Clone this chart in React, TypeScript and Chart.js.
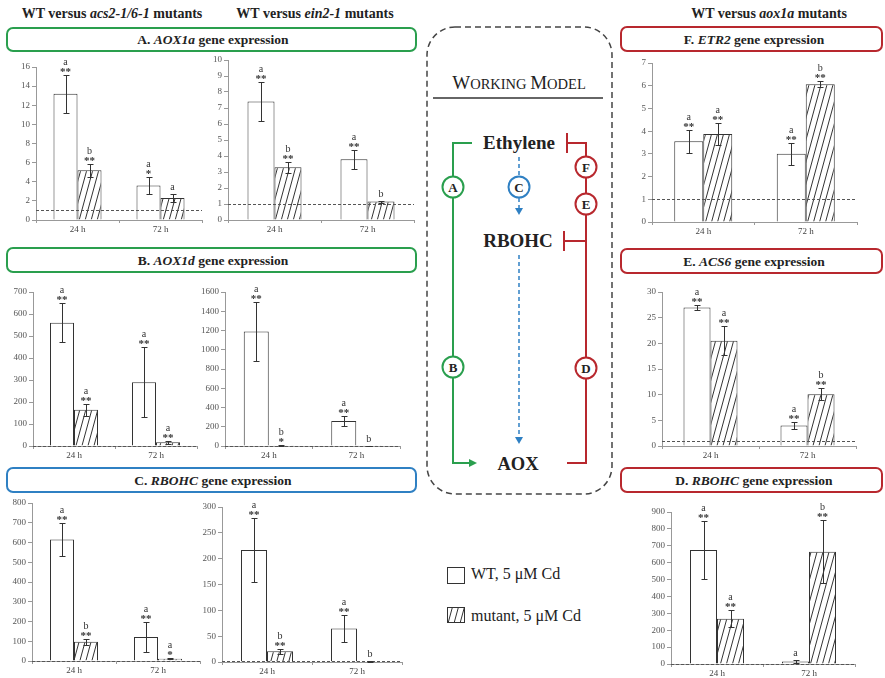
import React, { useEffect, useRef } from "react";
import { Chart, registerables } from "chart.js";

Chart.register(...registerables);

const FONT = "'Liberation Serif', 'Times New Roman', Times, serif";
Chart.defaults.font.family = FONT;

const timePoints = ["24 h", "72 h"];

// A. AOX1a — WT versus acs2-1/6-1
const aox1aAcsWT = [13.2, 3.6];
const aox1aAcsWTErr = [2.0, 0.9];
const aox1aAcsMut = [5.2, 2.3];
const aox1aAcsMutErr = [0.7, 0.4];
const aox1aAcsWTMarks = ["a **", "a *"];
const aox1aAcsMutMarks = ["b **", "a"];

// A. AOX1a — WT versus ein2-1
const aox1aEinWT = [7.4, 3.8];
const aox1aEinWTErr = [1.2, 0.6];
const aox1aEinMut = [3.3, 1.15];
const aox1aEinMutErr = [0.35, 0.06];
const aox1aEinWTMarks = ["a **", "a **"];
const aox1aEinMutMarks = ["b **", "b"];

// F. ETR2 — WT versus aox1a
const etr2WT = [3.55, 3.0];
const etr2WTErr = [0.52, 0.47];
const etr2Mut = [3.87, 6.06];
const etr2MutErr = [0.5, 0.13];
const etr2WTMarks = ["a **", "a **"];
const etr2MutMarks = ["a **", "b **"];

// B. AOX1d — WT versus acs2-1/6-1
const aox1dAcsWT = [560, 290];
const aox1dAcsWTErr = [88, 160];
const aox1dAcsMut = [165, 17];
const aox1dAcsMutErr = [27, 6];
const aox1dAcsWTMarks = ["a **", "a **"];
const aox1dAcsMutMarks = ["a **", "a **"];

// B. AOX1d — WT versus ein2-1
const aox1dEinWT = [1190, 260];
const aox1dEinWTErr = [308, 48];
const aox1dEinMut = [8, 2];
const aox1dEinMutErr = [3, 1];
const aox1dEinWTMarks = ["a **", "a **"];
const aox1dEinMutMarks = ["b *", "b"];

// E. ACS6 — WT versus aox1a
const acs6WT = [27, 4];
const acs6WTErr = [0.5, 0.6];
const acs6Mut = [20.5, 10.1];
const acs6MutErr = [2.8, 1.2];
const acs6WTMarks = ["a **", "a **"];
const acs6MutMarks = ["a **", "b **"];

// C. RBOHC — WT versus acs2-1/6-1
const rbohcAcsWT = [615, 122];
const rbohcAcsWTErr = [85, 75];
const rbohcAcsMut = [97, 12];
const rbohcAcsMutErr = [15, 4];
const rbohcAcsWTMarks = ["a **", "a **"];
const rbohcAcsMutMarks = ["b **", "a *"];

// C. RBOHC — WT versus ein2-1
const rbohcEinWT = [217, 65];
const rbohcEinWTErr = [62, 26];
const rbohcEinMut = [21, 1];
const rbohcEinMutErr = [5, 0.5];
const rbohcEinWTMarks = ["a **", "a **"];
const rbohcEinMutMarks = ["b **", "b"];

// D. RBOHC — WT versus aox1a
const rbohcAoxWT = [675, 15];
const rbohcAoxWTErr = [170, 10];
const rbohcAoxMut = [268, 665];
const rbohcAoxMutErr = [50, 185];
const rbohcAoxWTMarks = ["a **", "a"];
const rbohcAoxMutMarks = ["a **", "b **"];

type Area = { l: number; r: number; t: number; b: number };
type Panel = {
  id: string;
  area: Area;
  max: number;
  step: number;
  barW: number;
  wt: number[];
  wtErr: number[];
  wtMarks: string[];
  mut: number[];
  mutErr: number[];
  mutMarks: string[];
};

const panels: Panel[] = [
  { id: "a1", area: { l: 36, r: 202, t: 67, b: 220 }, max: 16, step: 2, barW: 24,
    wt: aox1aAcsWT, wtErr: aox1aAcsWTErr, wtMarks: aox1aAcsWTMarks,
    mut: aox1aAcsMut, mutErr: aox1aAcsMutErr, mutMarks: aox1aAcsMutMarks },
  { id: "a2", area: { l: 228, r: 414, t: 60, b: 220 }, max: 10, step: 1, barW: 27,
    wt: aox1aEinWT, wtErr: aox1aEinWTErr, wtMarks: aox1aEinWTMarks,
    mut: aox1aEinMut, mutErr: aox1aEinMutErr, mutMarks: aox1aEinMutMarks },
  { id: "f", area: { l: 652, r: 857, t: 63, b: 222 }, max: 7, step: 1, barW: 29,
    wt: etr2WT, wtErr: etr2WTErr, wtMarks: etr2WTMarks,
    mut: etr2Mut, mutErr: etr2MutErr, mutMarks: etr2MutMarks },
  { id: "b1", area: { l: 33, r: 197, t: 292, b: 446 }, max: 700, step: 100, barW: 24,
    wt: aox1dAcsWT, wtErr: aox1dAcsWTErr, wtMarks: aox1dAcsWTMarks,
    mut: aox1dAcsMut, mutErr: aox1dAcsMutErr, mutMarks: aox1dAcsMutMarks },
  { id: "b2", area: { l: 225, r: 400, t: 292, b: 446 }, max: 1600, step: 200, barW: 25,
    wt: aox1dEinWT, wtErr: aox1dEinWTErr, wtMarks: aox1dEinWTMarks,
    mut: aox1dEinMut, mutErr: aox1dEinMutErr, mutMarks: aox1dEinMutMarks },
  { id: "e", area: { l: 662, r: 856, t: 292, b: 446 }, max: 30, step: 5, barW: 27,
    wt: acs6WT, wtErr: acs6WTErr, wtMarks: acs6WTMarks,
    mut: acs6Mut, mutErr: acs6MutErr, mutMarks: acs6MutMarks },
  { id: "c1", area: { l: 32, r: 200, t: 503, b: 661 }, max: 800, step: 100, barW: 24,
    wt: rbohcAcsWT, wtErr: rbohcAcsWTErr, wtMarks: rbohcAcsWTMarks,
    mut: rbohcAcsMut, mutErr: rbohcAcsMutErr, mutMarks: rbohcAcsMutMarks },
  { id: "c2", area: { l: 222, r: 402, t: 507, b: 662 }, max: 300, step: 50, barW: 26,
    wt: rbohcEinWT, wtErr: rbohcEinWTErr, wtMarks: rbohcEinWTMarks,
    mut: rbohcEinMut, mutErr: rbohcEinMutErr, mutMarks: rbohcEinMutMarks },
  { id: "d", area: { l: 671, r: 855, t: 512, b: 664 }, max: 900, step: 100, barW: 27,
    wt: rbohcAoxWT, wtErr: rbohcAoxWTErr, wtMarks: rbohcAoxWTMarks,
    mut: rbohcAoxMut, mutErr: rbohcAoxMutErr, mutMarks: rbohcAoxMutMarks },
];

const INK = "#333";

function makeHatch(ctx: CanvasRenderingContext2D) {
  const w = 6, h = 22;
  const c = document.createElement("canvas");
  c.width = w;
  c.height = h;
  const g = c.getContext("2d")!;
  g.fillStyle = "#fff";
  g.fillRect(0, 0, w, h);
  g.strokeStyle = INK;
  g.lineWidth = 1;
  for (const k of [-1, 0, 1]) {
    g.beginPath();
    g.moveTo(k * w, h);
    g.lineTo(k * w + w, 0);
    g.stroke();
  }
  return ctx.createPattern(c, "repeat")!;
}

// Reference line at 1, error bars, and significance marks above each bar
const annotatePlugin = {
  id: "annotate",
  afterDatasetsDraw(chart: any) {
    const { ctx, chartArea, scales } = chart;
    const y = scales.y;
    ctx.save();
    ctx.strokeStyle = "#555";
    ctx.lineWidth = 1;
    ctx.setLineDash([3, 2]);
    const y1 = Math.round(y.getPixelForValue(1)) + 0.5;
    ctx.beginPath();
    ctx.moveTo(chartArea.left, y1);
    ctx.lineTo(chartArea.right, y1);
    ctx.stroke();
    ctx.setLineDash([]);

    chart.data.datasets.forEach((ds: any, i: number) => {
      const meta = chart.getDatasetMeta(i);
      meta.data.forEach((bar: any, j: number) => {
        const v = ds.data[j];
        const e = ds.errors[j];
        const x = Math.round(bar.x) + 0.5;
        const yt = Math.round(y.getPixelForValue(v + e)) + 0.5;
        const yb = Math.round(y.getPixelForValue(Math.max(0, v - e))) + 0.5;
        ctx.strokeStyle = INK;
        ctx.lineWidth = 1;
        ctx.beginPath();
        ctx.moveTo(x, yt);
        ctx.lineTo(x, yb);
        ctx.moveTo(x - 3, yt);
        ctx.lineTo(x + 3, yt);
        ctx.moveTo(x - 3, yb);
        ctx.lineTo(x + 3, yb);
        ctx.stroke();

        const [letter, stars] = String(ds.marks[j]).split(" ");
        ctx.fillStyle = INK;
        ctx.textAlign = "center";
        ctx.textBaseline = "alphabetic";
        if (stars) {
          ctx.font = `bold 11px ${FONT}`;
          ctx.fillText(stars, bar.x, yt - 1);
          ctx.font = `10px ${FONT}`;
          ctx.fillText(letter, bar.x, yt - 11);
        } else {
          ctx.font = `10px ${FONT}`;
          ctx.fillText(letter, bar.x, yt - 5);
        }
      });
    });
    ctx.restore();
  },
};

function BarPanel({ p }: { p: Panel }) {
  const ref = useRef<HTMLCanvasElement>(null);
  const padL = 40, padT = 26, padR = 6, padB = 20;
  const w = p.area.r - p.area.l + padL + padR;
  const h = p.area.b - p.area.t + padT + padB;

  useEffect(() => {
    const ctx = ref.current!.getContext("2d")!;
    const hatch = makeHatch(ctx);
    const catW = (p.area.r - p.area.l) / 2;
    const catPct = Math.min(1, (2 * p.barW) / catW);
    const chart = new Chart(ctx, {
      type: "bar",
      data: {
        labels: timePoints,
        datasets: [
          {
            label: "WT, 5 μM Cd",
            data: p.wt,
            errors: p.wtErr,
            marks: p.wtMarks,
            backgroundColor: "#fff",
            borderColor: INK,
            borderWidth: 1,
            barPercentage: 1,
            categoryPercentage: catPct,
          } as any,
          {
            label: "mutant, 5 μM Cd",
            data: p.mut,
            errors: p.mutErr,
            marks: p.mutMarks,
            backgroundColor: hatch,
            borderColor: INK,
            borderWidth: 1,
            barPercentage: 1,
            categoryPercentage: catPct,
          } as any,
        ],
      },
      options: {
        responsive: false,
        animation: false,
        devicePixelRatio: 1,
        layout: { padding: { top: padT, right: padR, left: 0, bottom: 0 } },
        plugins: { legend: { display: false }, tooltip: { enabled: false } },
        scales: {
          x: {
            grid: { drawOnChartArea: false, drawTicks: true, tickLength: 3, color: "#999", offset: true },
            border: { display: true, color: "#999" },
            ticks: { color: "#444", font: { size: 9, family: FONT }, padding: 1, maxRotation: 0 },
            afterFit: (s: any) => { s.height = padB; },
          },
          y: {
            min: 0,
            max: p.max,
            grid: { drawOnChartArea: false, drawTicks: true, tickLength: 4, color: "#999" },
            border: { display: true, color: "#999" },
            ticks: {
              stepSize: p.step,
              color: "#555",
              font: { size: 9, family: FONT },
              padding: 2,
              callback: (v: any) => String(v),
            },
            afterFit: (s: any) => { s.width = padL; },
          },
        },
      },
      plugins: [annotatePlugin],
    } as any);
    return () => chart.destroy();
  }, []);

  return (
    <canvas
      ref={ref}
      width={w}
      height={h}
      style={{ position: "absolute", left: p.area.l - padL, top: p.area.t - padT, width: w, height: h }}
    />
  );
}

const GREEN = "#2a9f4e";
const RED = "#b8282e";
const BLUE = "#2f80c3";

function TitleBox({ x, y, w, h, color, tx, prefix, gene }: any) {
  return (
    <g>
      <rect x={x} y={y} width={w} height={h} rx={6} ry={6} fill="#fff" stroke={color} strokeWidth={2} />
      <text x={tx} y={y + h / 2 + 4.5} textAnchor="middle" fontFamily={FONT} fontWeight="bold" fontSize={13.5} fill="#222">
        {prefix}
        <tspan fontStyle="italic">{gene}</tspan> gene expression
      </text>
    </g>
  );
}

function Circle({ cx, cy, color, label }: any) {
  return (
    <g>
      <circle cx={cx} cy={cy} r={10.5} fill="#fff" stroke={color} strokeWidth={2} />
      <text x={cx} y={cy + 4.5} textAnchor="middle" fontFamily={FONT} fontWeight="bold" fontSize={13} fill="#222">
        {label}
      </text>
    </g>
  );
}

function Overlay() {
  return (
    <svg width={885} height={678} style={{ position: "absolute", left: 0, top: 0 }}>
      <defs>
        <pattern id="hatchFill" width="6" height="22" patternUnits="userSpaceOnUse">
          <rect width="6" height="22" fill="#fff" />
          <path d="M0 22 L6 0 M-6 22 L0 0 M6 22 L12 0" stroke={INK} strokeWidth={1} />
        </pattern>
      </defs>

      {/* column headers */}
      <g fontFamily={FONT} fontWeight="bold" fontSize={14} fill="#222" textAnchor="middle">
        <text x={112} y={18}>
          WT versus <tspan fontStyle="italic">acs2-1/6-1</tspan> mutants
        </text>
        <text x={315} y={18}>
          WT versus <tspan fontStyle="italic">ein2-1</tspan> mutants
        </text>
        <text x={769} y={18}>
          WT versus <tspan fontStyle="italic">aox1a</tspan> mutants
        </text>
      </g>

      <TitleBox x={7} y={28} w={409} h={23} color={GREEN} tx={213} prefix="A. " gene="AOX1a" />
      <TitleBox x={7} y={248} w={409} h={24} color={GREEN} tx={213} prefix="B. " gene="AOX1d" />
      <TitleBox x={7} y={468} w={409} h={24} color={BLUE} tx={213} prefix="C. " gene="RBOHC" />
      <TitleBox x={621} y={27} w={261} h={24} color={RED} tx={754} prefix="F. " gene="ETR2" />
      <TitleBox x={621} y={249} w={261} h={24} color={RED} tx={754} prefix="E. " gene="ACS6" />
      <TitleBox x={621} y={468} w={261} h={24} color={RED} tx={754} prefix="D. " gene="RBOHC" />

      {/* working model */}
      <rect x={427} y={27} width={185} height={467} rx={28} ry={28} fill="none" stroke="#444" strokeWidth={1.5} strokeDasharray="6 4" />
      <text x={519} y={89} textAnchor="middle" fontFamily={FONT} fill="#222">
        <tspan fontSize={19}>W</tspan>
        <tspan fontSize={14.5}>ORKING </tspan>
        <tspan fontSize={19}>M</tspan>
        <tspan fontSize={14.5}>ODEL</tspan>
      </text>
      <line x1={433} y1={98} x2={603} y2={98} stroke="#333" strokeWidth={1.5} />

      {/* ethylene → AOX (green) */}
      <path d="M472 143 H453 V463 H470" fill="none" stroke={GREEN} strokeWidth={2} />
      <polygon points="477,463 469,459 469,467" fill={GREEN} />

      {/* inhibition branch (red) */}
      <path d="M567 133 V153 M567 143 H586 V463 H567" fill="none" stroke={RED} strokeWidth={2} />
      <path d="M586 241 H564 M564 231 V251" fill="none" stroke={RED} strokeWidth={2} />

      {/* ethylene → RBOHC → AOX (blue) */}
      <path d="M519 157 V176 M519 198 V208 M519 255 V436" fill="none" stroke={BLUE} strokeWidth={1.5} strokeDasharray="4 3" />
      <polygon points="519,215 515,208 523,208" fill={BLUE} />
      <polygon points="519,444 515,437 523,437" fill={BLUE} />

      <g fontFamily={FONT} fontWeight="bold" fill="#222" textAnchor="middle">
        <text x={519} y={149} fontSize={19}>Ethylene</text>
        <text x={518} y={247} fontSize={19}>RBOHC</text>
        <text x={518} y={470} fontSize={18.5}>AOX</text>
      </g>

      <Circle cx={453} cy={187} color={GREEN} label="A" />
      <Circle cx={453} cy={367} color={GREEN} label="B" />
      <Circle cx={519} cy={187} color={BLUE} label="C" />
      <Circle cx={586} cy={167} color={RED} label="F" />
      <Circle cx={586} cy={204} color={RED} label="E" />
      <Circle cx={586} cy={368} color={RED} label="D" />

      {/* legend */}
      <rect x={447.5} y={567.5} width={17} height={16} fill="#fff" stroke={INK} strokeWidth={1} />
      <text x={471} y={579} fontFamily={FONT} fontSize={16} fill="#222">WT, 5 μM Cd</text>
      <rect x={447.5} y={607.5} width={17} height={15} fill="url(#hatchFill)" stroke={INK} strokeWidth={1} />
      <text x={471} y={621} fontFamily={FONT} fontSize={16} fill="#222">mutant, 5 μM Cd</text>
    </svg>
  );
}

export default function App() {
  return (
    <div style={{ position: "absolute", left: 0, top: 0, width: 885, height: 678, background: "#fff", overflow: "hidden" }}>
      <Overlay />
      {panels.map((p) => (
        <BarPanel key={p.id} p={p} />
      ))}
    </div>
  );
}
